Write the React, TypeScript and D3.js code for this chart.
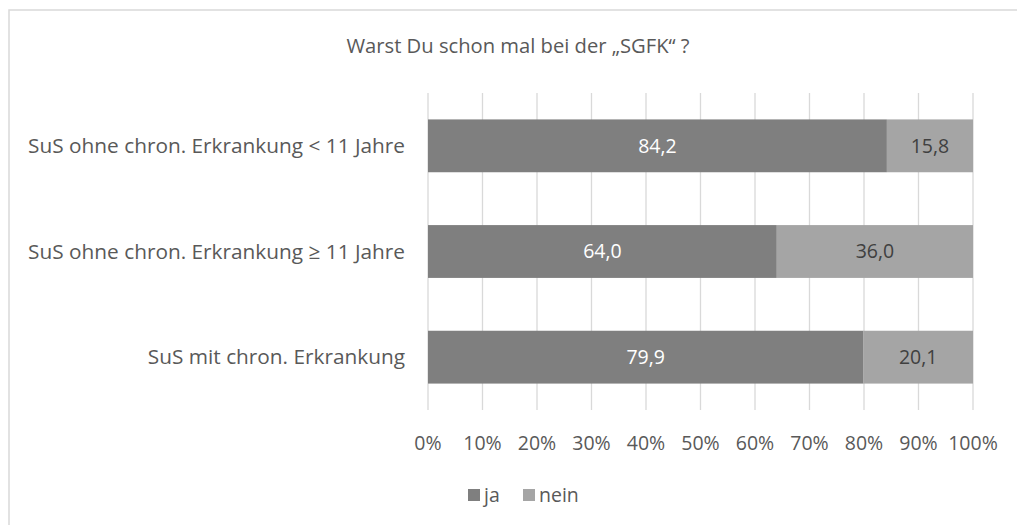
import React from "react";
import * as d3 from "d3";

const title = "Warst Du schon mal bei der \u201ESGFK\u201C ?";
const categories = [
  "SuS ohne chron. Erkrankung < 11 Jahre",
  "SuS ohne chron. Erkrankung \u2265 11 Jahre",
  "SuS mit chron. Erkrankung",
];
const seriesNames = ["ja", "nein"];
const jaValues = [84.2, 64.0, 79.9];
const neinValues = [15.8, 36.0, 20.1];
const tickValues = [0, 10, 20, 30, 40, 50, 60, 70, 80, 90, 100];
const seriesColors = ["#7f7f7f", "#a5a5a5"];
const labelColors = ["#ffffff", "#404040"];

const W = 1017;
const H = 525;
const FONT = "'Open Sans', sans-serif";
const TEXT = "#595959";

export default function App() {
  const x = d3.scaleLinear().domain([0, 100]).range([428, 973]);
  const y = d3
    .scaleBand<string>()
    .domain(categories)
    .range([93, 410])
    .paddingInner(0.5)
    .paddingOuter(0.25);

  const rows = categories.map((c, i) => ({ cat: c, ja: jaValues[i], nein: neinValues[i] }));
  const stacked = d3.stack<any>().keys(seriesNames)(rows);
  const fmt = (v: number) => v.toFixed(1).replace(".", ",");

  return (
    <div style={{ position: "fixed", left: 0, top: 0, width: W, height: H, background: "#fff" }}>
      <svg width={W} height={H} style={{ display: "block", fontFamily: FONT }}>
        <rect x={0} y={0} width={W} height={H} fill="#fff" />
        <rect x={9} y={10} width={W + 20} height={H + 20} fill="none" stroke="#d9d9d9" strokeWidth={1.5} />
        <text x={518} y={46} textAnchor="middle" dy="0.35em" fill={TEXT} fontSize={20.2}>
          {title}
        </text>
        {tickValues.map((t) => (
          <line key={"g" + t} x1={x(t)} x2={x(t)} y1={93} y2={410} stroke="#d9d9d9" strokeWidth={1.3} />
        ))}
        {stacked.map((s, si) =>
          s.map((d, i) => (
            <g key={s.key + i}>
              <rect
                x={x(d[0])}
                width={x(d[1]) - x(d[0])}
                y={y(categories[i])!}
                height={y.bandwidth()}
                fill={seriesColors[si]}
              />
              <text
                x={(x(d[0]) + x(d[1])) / 2}
                y={y(categories[i])! + y.bandwidth() / 2}
                dy="0.35em"
                textAnchor="middle"
                fill={labelColors[si]}
                fontSize={19.5}
              >
                {fmt(d[1] - d[0])}
              </text>
            </g>
          ))
        )}
        {categories.map((c) => (
          <text
            key={c}
            x={405}
            y={y(c)! + y.bandwidth() / 2}
            dy="0.35em"
            textAnchor="end"
            fill={TEXT}
            fontSize={20.8}
          >
            {c}
          </text>
        ))}
        {tickValues.map((t) => (
          <text key={"t" + t} x={x(t)} y={443} dy="0.35em" textAnchor="middle" fill={TEXT} fontSize={19.5}>
            {t + "%"}
          </text>
        ))}
        {seriesNames.map((n, i) => {
          const lx = i === 0 ? 468 : 523;
          return (
            <g key={n}>
              <rect x={lx} y={489} width={12} height={12} fill={seriesColors[i]} />
              <text x={lx + 16} y={495} dy="0.35em" fill={TEXT} fontSize={19.5}>
                {n}
              </text>
            </g>
          );
        })}
      </svg>
    </div>
  );
}
